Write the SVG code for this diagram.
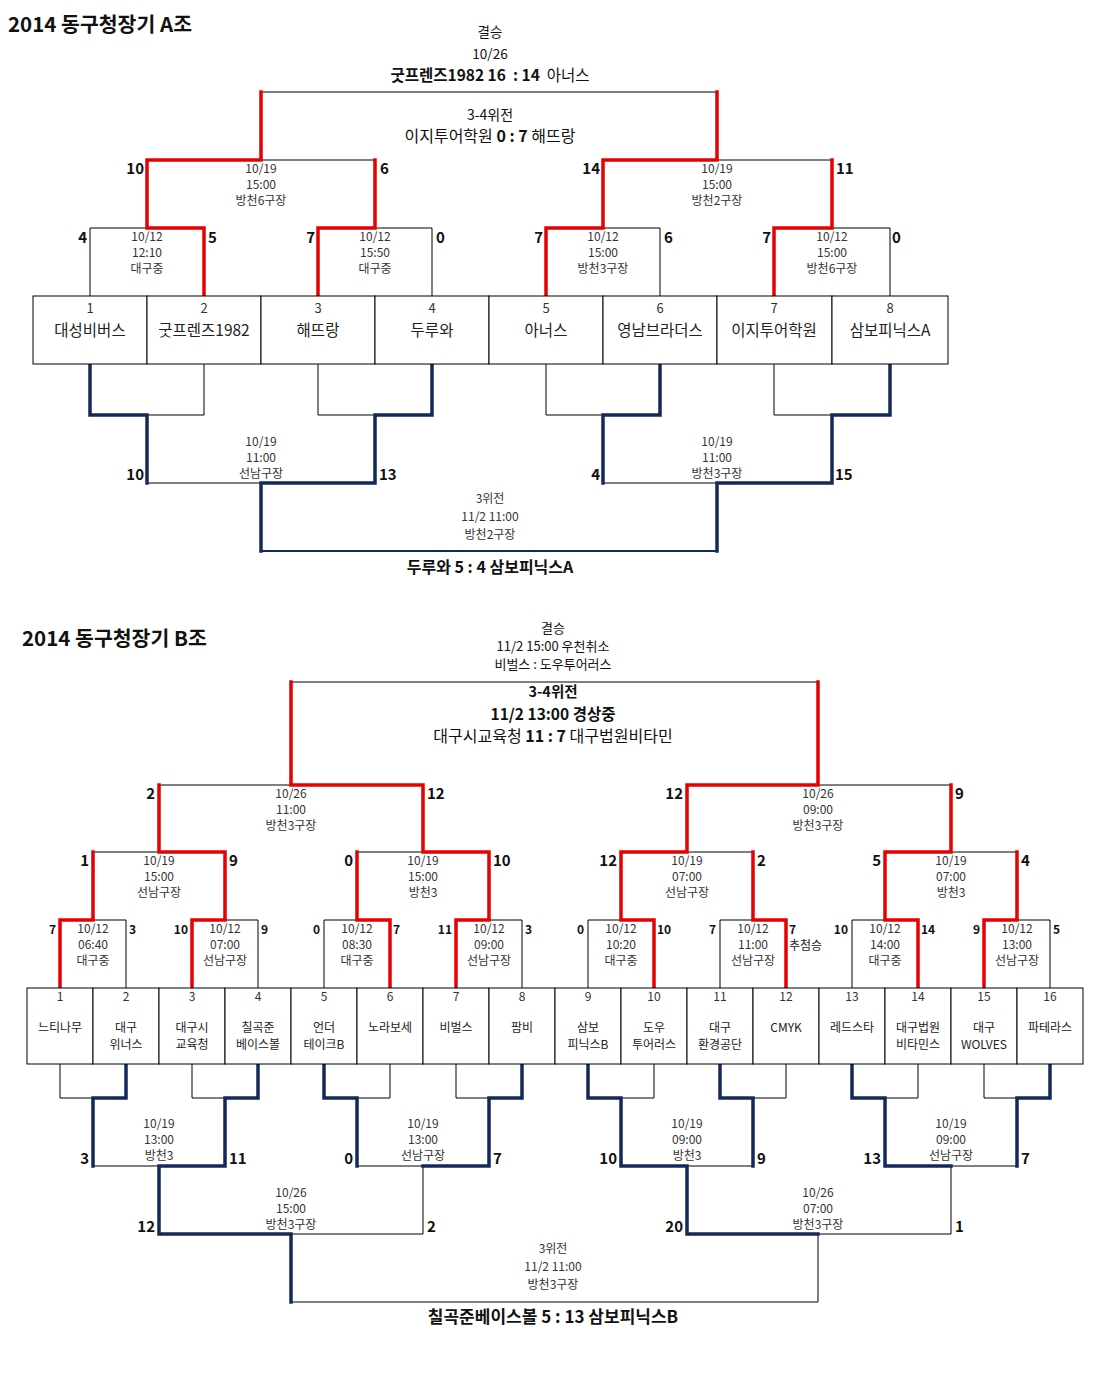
<svg xmlns="http://www.w3.org/2000/svg" width="1110" height="1398" viewBox="0 0 1110 1398">
<style>
text{font-family:"Noto Sans CJK KR","Noto Sans",sans-serif;fill:#111}
.title{font-size:20.5px;font-weight:bold}
.c{text-anchor:middle}
.e{text-anchor:end}
.sm{font-size:12px;fill:#333;text-anchor:middle}
.md{font-size:13.5px;text-anchor:middle}
.hd{font-size:16px;text-anchor:middle}
.b{font-weight:bold}
.sc{font-size:15px;font-weight:bold}
.scs{font-size:12px;font-weight:bold}
.num{font-size:13px;fill:#333;text-anchor:middle}
.nm{font-size:15.5px;fill:#222;text-anchor:middle}
.numb{font-size:12px;fill:#333;text-anchor:middle}
.nmb{font-size:12px;fill:#222;text-anchor:middle}
.box{fill:#fff;stroke:#000;stroke-width:1}
.thin{fill:none;stroke:#000;stroke-width:1}
.red{fill:none;stroke:#e60000;stroke-width:3.5;stroke-linejoin:miter;stroke-linecap:square}
.navy{fill:none;stroke:#14285a;stroke-width:3.5;stroke-linejoin:miter;stroke-linecap:square}
.navy2{fill:none;stroke:#14285a;stroke-width:2}
</style>
<rect width="1110" height="1398" fill="#fff"/>

<!-- ============ A group ============ -->
<text class="title" x="8" y="32">2014 동구청장기 A조</text>

<g id="connectors-a">
  <path class="thin" d="M261,160 V92 H717 V160"/>
  <path class="thin" d="M147,228 V160 H375 V228"/>
  <path class="thin" d="M603,228 V160 H832 V228"/>
  <path class="thin" d="M90,296 V228 H204 V296"/>
  <path class="thin" d="M318,296 V228 H432 V296"/>
  <path class="thin" d="M546,296 V228 H660 V296"/>
  <path class="thin" d="M774,296 V228 H890 V296"/>
  <path class="thin" d="M90,364 V415 H204 V364"/>
  <path class="thin" d="M318,364 V415 H432 V364"/>
  <path class="thin" d="M546,364 V415 H660 V364"/>
  <path class="thin" d="M774,364 V415 H890 V364"/>
  <path class="thin" d="M147,415 V483 H375 V415"/>
  <path class="thin" d="M603,415 V483 H832 V415"/>
  <path class="navy2" d="M261,483 V551 H717 V483"/>
  <path class="red" d="M204,296 V228 H147 V160 H261 V92"/>
  <path class="red" d="M318,296 V228 H375 V160"/>
  <path class="red" d="M546,296 V228 H603 V160 H717 V92"/>
  <path class="red" d="M774,296 V228 H832 V160"/>
  <path class="navy" d="M90,364 V415 H147 V483"/>
  <path class="navy" d="M432,364 V415 H375 V483 H261 V551"/>
  <path class="navy" d="M660,364 V415 H603 V483"/>
  <path class="navy" d="M890,364 V415 H832 V483 H717 V551"/>
</g>

<g id="a-team-1"><rect class="box" x="33" y="296" width="114" height="68"/><text class="num" x="90" y="313">1</text><text class="nm" x="90" y="336">대성비버스</text></g>
<g id="a-team-2"><rect class="box" x="147" y="296" width="114" height="68"/><text class="num" x="204" y="313">2</text><text class="nm" x="204" y="336">굿프렌즈1982</text></g>
<g id="a-team-3"><rect class="box" x="261" y="296" width="114" height="68"/><text class="num" x="318" y="313">3</text><text class="nm" x="318" y="336">해뜨랑</text></g>
<g id="a-team-4"><rect class="box" x="375" y="296" width="114" height="68"/><text class="num" x="432" y="313">4</text><text class="nm" x="432" y="336">두루와</text></g>
<g id="a-team-5"><rect class="box" x="489" y="296" width="114" height="68"/><text class="num" x="546" y="313">5</text><text class="nm" x="546" y="336">아너스</text></g>
<g id="a-team-6"><rect class="box" x="603" y="296" width="114" height="68"/><text class="num" x="660" y="313">6</text><text class="nm" x="660" y="336">영남브라더스</text></g>
<g id="a-team-7"><rect class="box" x="717" y="296" width="115" height="68"/><text class="num" x="774" y="313">7</text><text class="nm" x="774" y="336">이지투어학원</text></g>
<g id="a-team-8"><rect class="box" x="832" y="296" width="116" height="68"/><text class="num" x="890" y="313">8</text><text class="nm" x="890" y="336">삼보피닉스A</text></g>

<g id="a-labels">
  <text class="md" x="490" y="37">결승</text>
  <text class="md" x="490" y="59">10/26</text>
  <text class="md" x="490" y="81" xml:space="preserve" style="font-size:15.5px"><tspan class="b">굿프렌즈1982 16  : 14</tspan>  아너스</text>
  <text class="md" x="490" y="120" style="font-size:14px">3-4위전</text>
  <text class="hd" x="490" y="142">이지투어학원 <tspan class="b">0 : 7</tspan> 해뜨랑</text>

  <text class="sm" x="261" y="173">10/19</text><text class="sm" x="261" y="189">15:00</text><text class="sm" x="261" y="205">방천6구장</text>
  <text class="sm" x="717" y="173">10/19</text><text class="sm" x="717" y="189">15:00</text><text class="sm" x="717" y="205">방천2구장</text>
  <text class="sc e" x="144" y="174">10</text><text class="sc" x="380" y="174">6</text>
  <text class="sc e" x="600" y="174">14</text><text class="sc" x="836" y="174">11</text>

  <text class="sm" x="147" y="241">10/12</text><text class="sm" x="147" y="257">12:10</text><text class="sm" x="147" y="273">대구중</text>
  <text class="sm" x="375" y="241">10/12</text><text class="sm" x="375" y="257">15:50</text><text class="sm" x="375" y="273">대구중</text>
  <text class="sm" x="603" y="241">10/12</text><text class="sm" x="603" y="257">15:00</text><text class="sm" x="603" y="273">방천3구장</text>
  <text class="sm" x="832" y="241">10/12</text><text class="sm" x="832" y="257">15:00</text><text class="sm" x="832" y="273">방천6구장</text>
  <text class="sc e" x="87" y="243">4</text><text class="sc" x="208" y="243">5</text>
  <text class="sc e" x="315" y="243">7</text><text class="sc" x="436" y="243">0</text>
  <text class="sc e" x="543" y="243">7</text><text class="sc" x="664" y="243">6</text>
  <text class="sc e" x="771" y="243">7</text><text class="sc" x="892" y="243">0</text>

  <text class="sm" x="261" y="446">10/19</text><text class="sm" x="261" y="462">11:00</text><text class="sm" x="261" y="478">선남구장</text>
  <text class="sm" x="717" y="446">10/19</text><text class="sm" x="717" y="462">11:00</text><text class="sm" x="717" y="478">방천3구장</text>
  <text class="sc e" x="144" y="480">10</text><text class="sc" x="379" y="480">13</text>
  <text class="sc e" x="600" y="480">4</text><text class="sc" x="835" y="480">15</text>

  <text class="sm" x="490" y="503">3위전</text><text class="sm" x="490" y="521">11/2 11:00</text><text class="sm" x="490" y="539">방천2구장</text>
  <text class="hd b" x="490" y="573">두루와 5 : 4 삼보피닉스A</text>
</g>

<!-- ============ B group ============ -->
<text class="title" x="22" y="646">2014 동구청장기 B조</text>

<g id="connectors-b">
  <path class="thin" d="M291,785 V682 H818 V785"/>
  <path class="thin" d="M159,852 V785 H423 V852"/>
  <path class="thin" d="M687,852 V785 H951 V852"/>
  <path class="thin" d="M93,920 V852 H225 V920"/>
  <path class="thin" d="M357,920 V852 H489 V920"/>
  <path class="thin" d="M621,920 V852 H753 V920"/>
  <path class="thin" d="M885,920 V852 H1017 V920"/>
  <path class="thin" d="M60,988 V920 H126 V988"/>
  <path class="thin" d="M192,988 V920 H258 V988"/>
  <path class="thin" d="M324,988 V920 H390 V988"/>
  <path class="thin" d="M456,988 V920 H522 V988"/>
  <path class="thin" d="M588,988 V920 H654 V988"/>
  <path class="thin" d="M720,988 V920 H786 V988"/>
  <path class="thin" d="M852,988 V920 H918 V988"/>
  <path class="thin" d="M984,988 V920 H1050 V988"/>
  <path class="thin" d="M60,1064 V1098 H126 V1064"/>
  <path class="thin" d="M192,1064 V1098 H258 V1064"/>
  <path class="thin" d="M324,1064 V1098 H390 V1064"/>
  <path class="thin" d="M456,1064 V1098 H522 V1064"/>
  <path class="thin" d="M588,1064 V1098 H654 V1064"/>
  <path class="thin" d="M720,1064 V1098 H786 V1064"/>
  <path class="thin" d="M852,1064 V1098 H918 V1064"/>
  <path class="thin" d="M984,1064 V1098 H1050 V1064"/>
  <path class="thin" d="M93,1098 V1166 H225 V1098"/>
  <path class="thin" d="M357,1098 V1166 H489 V1098"/>
  <path class="thin" d="M621,1098 V1166 H753 V1098"/>
  <path class="thin" d="M885,1098 V1166 H1017 V1098"/>
  <path class="thin" d="M159,1166 V1234 H423 V1166"/>
  <path class="thin" d="M687,1166 V1234 H951 V1166"/>
  <path class="thin" d="M291,1234 V1302 H818 V1234"/>

  <path class="red" d="M60,988 V920 H93 V852"/>
  <path class="red" d="M192,988 V920 H225 V852 H159 V785"/>
  <path class="red" d="M390,988 V920 H357 V852"/>
  <path class="red" d="M456,988 V920 H489 V852 H423 V785 H291 V682"/>
  <path class="red" d="M654,988 V920 H621 V852 H687 V785 H818 V682"/>
  <path class="red" d="M786,988 V920 H753 V852"/>
  <path class="red" d="M918,988 V920 H885 V852 H951 V785"/>
  <path class="red" d="M984,988 V920 H1017 V852"/>

  <path class="navy" d="M126,1064 V1098 H93 V1166"/>
  <path class="navy" d="M258,1064 V1098 H225 V1166 H159 V1234 H291 V1302"/>
  <path class="navy" d="M324,1064 V1098 H357 V1166"/>
  <path class="navy" d="M522,1064 V1098 H489 V1166 H423"/>
  <path class="navy" d="M588,1064 V1098 H621 V1166 H687 V1234 H818"/>
  <path class="navy" d="M720,1064 V1098 H753 V1166"/>
  <path class="navy" d="M852,1064 V1098 H885 V1166 H951"/>
  <path class="navy" d="M1050,1064 V1098 H1017 V1166"/>
</g>

<g id="b-team-1"><rect class="box" x="27" y="988" width="66" height="76"/><text class="numb" x="60" y="1001">1</text><text class="nmb" x="60" y="1032">느티나무</text></g>
<g id="b-team-2"><rect class="box" x="93" y="988" width="66" height="76"/><text class="numb" x="126" y="1001">2</text><text class="nmb" x="126" y="1032">대구</text><text class="nmb" x="126" y="1049">위너스</text></g>
<g id="b-team-3"><rect class="box" x="159" y="988" width="66" height="76"/><text class="numb" x="192" y="1001">3</text><text class="nmb" x="192" y="1032">대구시</text><text class="nmb" x="192" y="1049">교육청</text></g>
<g id="b-team-4"><rect class="box" x="225" y="988" width="66" height="76"/><text class="numb" x="258" y="1001">4</text><text class="nmb" x="258" y="1032">칠곡준</text><text class="nmb" x="258" y="1049">베이스볼</text></g>
<g id="b-team-5"><rect class="box" x="291" y="988" width="66" height="76"/><text class="numb" x="324" y="1001">5</text><text class="nmb" x="324" y="1032">언더</text><text class="nmb" x="324" y="1049">테이크B</text></g>
<g id="b-team-6"><rect class="box" x="357" y="988" width="66" height="76"/><text class="numb" x="390" y="1001">6</text><text class="nmb" x="390" y="1032">노라보세</text></g>
<g id="b-team-7"><rect class="box" x="423" y="988" width="66" height="76"/><text class="numb" x="456" y="1001">7</text><text class="nmb" x="456" y="1032">비벌스</text></g>
<g id="b-team-8"><rect class="box" x="489" y="988" width="66" height="76"/><text class="numb" x="522" y="1001">8</text><text class="nmb" x="522" y="1032">팜비</text></g>
<g id="b-team-9"><rect class="box" x="555" y="988" width="66" height="76"/><text class="numb" x="588" y="1001">9</text><text class="nmb" x="588" y="1032">삼보</text><text class="nmb" x="588" y="1049">피닉스B</text></g>
<g id="b-team-10"><rect class="box" x="621" y="988" width="66" height="76"/><text class="numb" x="654" y="1001">10</text><text class="nmb" x="654" y="1032">도우</text><text class="nmb" x="654" y="1049">투어러스</text></g>
<g id="b-team-11"><rect class="box" x="687" y="988" width="66" height="76"/><text class="numb" x="720" y="1001">11</text><text class="nmb" x="720" y="1032">대구</text><text class="nmb" x="720" y="1049">환경공단</text></g>
<g id="b-team-12"><rect class="box" x="753" y="988" width="66" height="76"/><text class="numb" x="786" y="1001">12</text><text class="nmb" x="786" y="1032">CMYK</text></g>
<g id="b-team-13"><rect class="box" x="819" y="988" width="66" height="76"/><text class="numb" x="852" y="1001">13</text><text class="nmb" x="852" y="1032">레드스타</text></g>
<g id="b-team-14"><rect class="box" x="885" y="988" width="66" height="76"/><text class="numb" x="918" y="1001">14</text><text class="nmb" x="918" y="1032">대구법원</text><text class="nmb" x="918" y="1049">비타민스</text></g>
<g id="b-team-15"><rect class="box" x="951" y="988" width="66" height="76"/><text class="numb" x="984" y="1001">15</text><text class="nmb" x="984" y="1032">대구</text><text class="nmb" x="984" y="1049">WOLVES</text></g>
<g id="b-team-16"><rect class="box" x="1017" y="988" width="66" height="76"/><text class="numb" x="1050" y="1001">16</text><text class="nmb" x="1050" y="1032">파테라스</text></g>

<g id="b-labels">
  <text class="md" x="553" y="633" style="font-size:13px">결승</text>
  <text class="md" x="553" y="651" style="font-size:13px">11/2 15:00 우천취소</text>
  <text class="md" x="553" y="669" style="font-size:13px">비벌스 : 도우투어러스</text>
  <text class="hd b" x="553" y="697" style="font-size:14.5px">3-4위전</text>
  <text class="hd b" x="553" y="720" style="font-size:15.5px">11/2 13:00 경상중</text>
  <text class="hd" x="553" y="742">대구시교육청 <tspan class="b">11 : 7</tspan> 대구법원비타민</text>

  <text class="sm" x="291" y="798">10/26</text><text class="sm" x="291" y="814">11:00</text><text class="sm" x="291" y="830">방천3구장</text>
  <text class="sm" x="818" y="798">10/26</text><text class="sm" x="818" y="814">09:00</text><text class="sm" x="818" y="830">방천3구장</text>
  <text class="sc e" x="155" y="799">2</text><text class="sc" x="427" y="799">12</text>
  <text class="sc e" x="683" y="799">12</text><text class="sc" x="955" y="799">9</text>

  <text class="sm" x="159" y="865">10/19</text><text class="sm" x="159" y="881">15:00</text><text class="sm" x="159" y="897">선남구장</text>
  <text class="sm" x="423" y="865">10/19</text><text class="sm" x="423" y="881">15:00</text><text class="sm" x="423" y="897">방천3</text>
  <text class="sm" x="687" y="865">10/19</text><text class="sm" x="687" y="881">07:00</text><text class="sm" x="687" y="897">선남구장</text>
  <text class="sm" x="951" y="865">10/19</text><text class="sm" x="951" y="881">07:00</text><text class="sm" x="951" y="897">방천3</text>
  <text class="sc e" x="89" y="866">1</text><text class="sc" x="229" y="866">9</text>
  <text class="sc e" x="353" y="866">0</text><text class="sc" x="493" y="866">10</text>
  <text class="sc e" x="617" y="866">12</text><text class="sc" x="757" y="866">2</text>
  <text class="sc e" x="881" y="866">5</text><text class="sc" x="1021" y="866">4</text>

  <text class="sm" x="93" y="933">10/12</text><text class="sm" x="93" y="949">06:40</text><text class="sm" x="93" y="965">대구중</text>
  <text class="sm" x="225" y="933">10/12</text><text class="sm" x="225" y="949">07:00</text><text class="sm" x="225" y="965">선남구장</text>
  <text class="sm" x="357" y="933">10/12</text><text class="sm" x="357" y="949">08:30</text><text class="sm" x="357" y="965">대구중</text>
  <text class="sm" x="489" y="933">10/12</text><text class="sm" x="489" y="949">09:00</text><text class="sm" x="489" y="965">선남구장</text>
  <text class="sm" x="621" y="933">10/12</text><text class="sm" x="621" y="949">10:20</text><text class="sm" x="621" y="965">대구중</text>
  <text class="sm" x="753" y="933">10/12</text><text class="sm" x="753" y="949">11:00</text><text class="sm" x="753" y="965">선남구장</text>
  <text class="sm" x="885" y="933">10/12</text><text class="sm" x="885" y="949">14:00</text><text class="sm" x="885" y="965">대구중</text>
  <text class="sm" x="1017" y="933">10/12</text><text class="sm" x="1017" y="949">13:00</text><text class="sm" x="1017" y="965">선남구장</text>
  <text class="scs e" x="56" y="934">7</text><text class="scs" x="129" y="934">3</text>
  <text class="scs e" x="188" y="934">10</text><text class="scs" x="261" y="934">9</text>
  <text class="scs e" x="320" y="934">0</text><text class="scs" x="393" y="934">7</text>
  <text class="scs e" x="452" y="934">11</text><text class="scs" x="525" y="934">3</text>
  <text class="scs e" x="584" y="934">0</text><text class="scs" x="657" y="934">10</text>
  <text class="scs e" x="716" y="934">7</text><text class="scs" x="789" y="934">7</text>
  <text class="scs e" x="848" y="934">10</text><text class="scs" x="921" y="934">14</text>
  <text class="scs e" x="980" y="934">9</text><text class="scs" x="1053" y="934">5</text>
  <text x="789" y="950" style="font-size:12px;fill:#222">추첨승</text>

  <text class="sm" x="159" y="1128">10/19</text><text class="sm" x="159" y="1144">13:00</text><text class="sm" x="159" y="1160">방천3</text>
  <text class="sm" x="423" y="1128">10/19</text><text class="sm" x="423" y="1144">13:00</text><text class="sm" x="423" y="1160">선남구장</text>
  <text class="sm" x="687" y="1128">10/19</text><text class="sm" x="687" y="1144">09:00</text><text class="sm" x="687" y="1160">방천3</text>
  <text class="sm" x="951" y="1128">10/19</text><text class="sm" x="951" y="1144">09:00</text><text class="sm" x="951" y="1160">선남구장</text>
  <text class="sc e" x="89" y="1164">3</text><text class="sc" x="229" y="1164">11</text>
  <text class="sc e" x="353" y="1164">0</text><text class="sc" x="493" y="1164">7</text>
  <text class="sc e" x="617" y="1164">10</text><text class="sc" x="757" y="1164">9</text>
  <text class="sc e" x="881" y="1164">13</text><text class="sc" x="1021" y="1164">7</text>

  <text class="sm" x="291" y="1197">10/26</text><text class="sm" x="291" y="1213">15:00</text><text class="sm" x="291" y="1229">방천3구장</text>
  <text class="sm" x="818" y="1197">10/26</text><text class="sm" x="818" y="1213">07:00</text><text class="sm" x="818" y="1229">방천3구장</text>
  <text class="sc e" x="155" y="1232">12</text><text class="sc" x="427" y="1232">2</text>
  <text class="sc e" x="683" y="1232">20</text><text class="sc" x="955" y="1232">1</text>

  <text class="sm" x="553" y="1253">3위전</text><text class="sm" x="553" y="1271">11/2 11:00</text><text class="sm" x="553" y="1289">방천3구장</text>
  <text class="hd b" x="553" y="1323" style="font-size:17px">칠곡준베이스볼 5 : 13 삼보피닉스B</text>
</g>
</svg>
